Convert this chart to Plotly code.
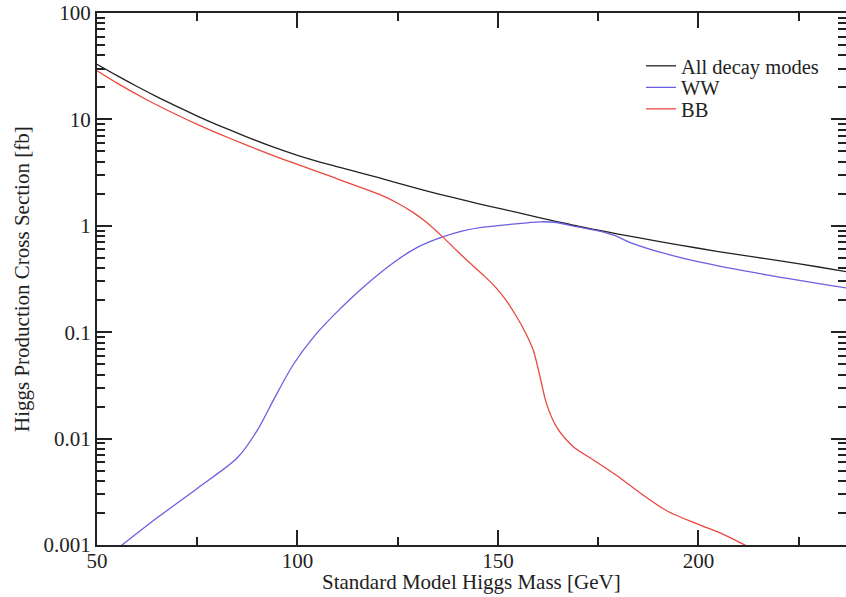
import plotly.graph_objects as go

# Data
mass_all = [50, 55, 60, 65, 70, 75, 80, 87, 93, 100, 108, 115, 120, 128, 135, 142, 148, 155,
            160, 165, 170, 175, 180, 190, 200, 210, 220, 230, 237]
xs_all = [33, 25.8, 20.4, 16.3, 13.2, 10.75, 8.9, 6.93, 5.67, 4.6, 3.75, 3.2, 2.85, 2.35, 2.0, 1.72, 1.52, 1.33,
          1.2, 1.09, 0.99, 0.91, 0.835, 0.715, 0.615, 0.535, 0.47, 0.41, 0.37]

mass_ww = [55.5, 65, 75, 85, 90, 94, 99, 104, 109, 116.4, 124.7, 130, 135.5, 141, 146.3, 153, 160.5, 164,
           170, 175, 178.7, 183.7, 190.4, 200.4, 217, 237]
xs_ww = [0.00095, 0.0018, 0.0034, 0.0066, 0.012, 0.023, 0.05, 0.09, 0.144, 0.265, 0.472, 0.63, 0.77,
         0.89, 0.97, 1.03, 1.09, 1.08, 0.975, 0.895, 0.82, 0.68, 0.565, 0.455, 0.346, 0.26]

mass_bb = [50, 55, 62.4, 70, 75, 80, 87.3, 93, 100, 108, 114, 120.6, 125, 128.9, 132, 136, 139.7, 143,
           146.5, 149.7, 152, 154.7, 156.8, 158.8, 160.5, 162.1, 164.6, 168.8, 173.8, 179.6, 185.4,
           192.1, 200.4, 205.4, 211.6, 214]
xs_bb = [28.6, 21.9, 15.3, 11.0, 8.98, 7.43, 5.73, 4.72, 3.77, 2.94, 2.42, 1.96, 1.63, 1.33, 1.09, 0.8, 0.585, 0.447,
         0.34, 0.257, 0.2, 0.139, 0.1, 0.068, 0.038, 0.0213, 0.0129, 0.0084, 0.0063, 0.0045, 0.0031,
         0.0021, 0.00154, 0.0013, 0.001, 0.0009]

x_ticks = [50, 100, 150, 200]
x_minor = [75, 125, 175, 225]
y_ticks = [0.001, 0.01, 0.1, 1, 10, 100]
y_labels = ["0.001", "0.01", "0.1", "1", "10", "100"]

x_title = "Standard Model Higgs Mass [GeV]"
y_title = "Higgs Production Cross Section [fb]"

FONT = "Liberation Serif, Times New Roman, serif"
FS = 21
INK = "#222222"

W, H = 846, 597
ML, MR, MT, MB = 97, 0, 13, 52
plot_w = W - ML - MR
plot_h = H - MT - MB

fig = go.Figure()
fig.add_trace(go.Scatter(x=mass_all, y=xs_all, mode="lines", name="All decay modes", legend="legend",
                         line=dict(color=INK, width=1.3, shape="spline", smoothing=0.8)))
fig.add_trace(go.Scatter(x=mass_ww, y=xs_ww, mode="lines", name="WW", legend="legend2",
                         line=dict(color="#6a5fe0", width=1.3, shape="spline", smoothing=0.8)))
fig.add_trace(go.Scatter(x=mass_bb, y=xs_bb, mode="lines", name="BB", legend="legend3",
                         line=dict(color="#e8483e", width=1.3, shape="spline", smoothing=0.8)))

leg_common = dict(x=(641 - ML) / plot_w, xanchor="left", yanchor="middle", bgcolor="rgba(0,0,0,0)",
                  font=dict(size=20.5, family=FONT, color=INK), itemwidth=30)

fig.update_layout(
    width=W, height=H,
    margin=dict(l=ML, r=MR, t=MT, b=MB),
    paper_bgcolor="white", plot_bgcolor="white",
    font=dict(family=FONT, size=FS, color=INK),
    showlegend=True,
    legend=dict(y=(545 - 66) / plot_h, **leg_common),
    legend2=dict(y=(545 - 87.5) / plot_h, **leg_common),
    legend3=dict(y=(545 - 109) / plot_h, **leg_common),
    annotations=[
        dict(text=x_title, xref="paper", yref="paper", x=(471 - ML) / plot_w, y=-37 / plot_h,
             xanchor="center", yanchor="middle", showarrow=False,
             font=dict(size=FS, family=FONT, color=INK)),
        dict(text=y_title, xref="paper", yref="paper", x=(22 - ML) / plot_w, y=0.5,
             xanchor="center", yanchor="middle", textangle=-90, showarrow=False,
             font=dict(size=FS, family=FONT, color=INK)),
    ],
)
fig.update_xaxes(
    range=[50, 236.8], tickvals=x_ticks, ticktext=[str(v) for v in x_ticks],
    ticks="inside", ticklen=15, tickwidth=1.5, tickcolor=INK,
    showline=True, linewidth=2, linecolor=INK, mirror="ticks",
    showgrid=False, zeroline=False, automargin=False, ticklabelstandoff=-4,
    ticklabeloverflow="allow",
    minor=dict(tickvals=x_minor, ticks="inside", ticklen=8, tickwidth=1.5, tickcolor=INK, showgrid=False),
    tickfont=dict(size=FS, family=FONT, color=INK),
)
fig.update_yaxes(
    type="log", range=[-3, 2], tickvals=y_ticks, ticktext=y_labels,
    ticks="inside", ticklen=15, tickwidth=1.5, tickcolor=INK,
    showline=True, linewidth=2, linecolor=INK, mirror="ticks",
    showgrid=False, zeroline=False, automargin=False, ticklabeloverflow="allow",
    minor=dict(dtick="D1", ticks="inside", ticklen=8, tickwidth=1.5, tickcolor=INK, showgrid=False),
    tickfont=dict(size=FS, family=FONT, color=INK),
)

# Remove the browser's default 8px body margin so the figure fills the window exactly.
fig.write_html("out.html", config={"displayModeBar": False},
               post_script="document.body.style.margin='0';")
